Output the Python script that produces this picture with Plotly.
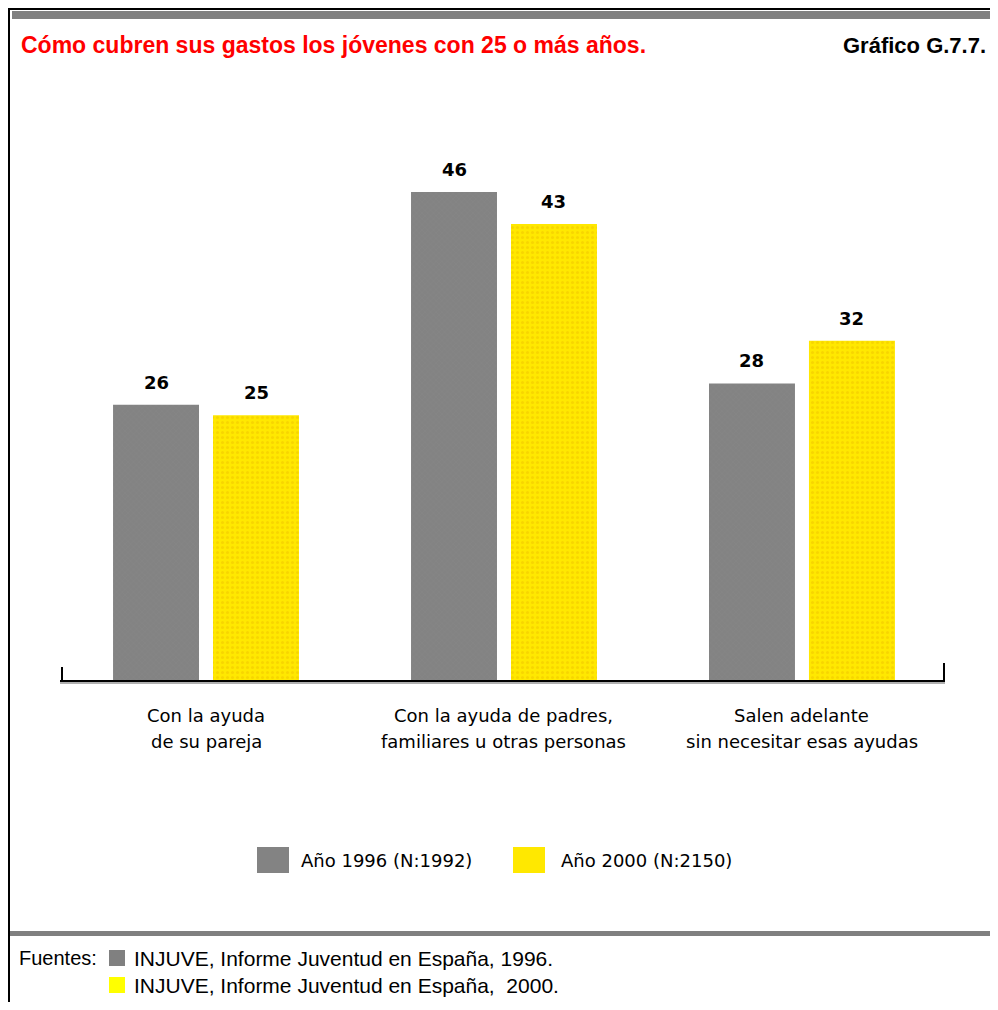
import plotly.graph_objects as go

# ---------------- data ----------------
categories_line1 = ["Con la ayuda", "Con la ayuda de padres,", "Salen adelante"]
categories_line2 = ["de su pareja", "familiares u otras personas", "sin necesitar esas ayudas"]
values_1996 = [26, 46, 28]
values_2000 = [25, 43, 32]
series_names = ["Año 1996 (N:1992)", "Año 2000 (N:2150)"]
title_text = "Cómo cubren sus gastos los jóvenes con 25 o más años."
chart_id = "Gráfico G.7.7."
sources = ["INJUVE, Informe Juventud en España, 1996.",
           "INJUVE, Informe Juventud en España,  2000."]

# ---------------- style / layout ----------------
OFF = 8  # page body margin of the browser
W, H = 982, 994
ML, MR, MT, MB = 52, 45, 92, 321
PW, PH = W - ML - MR, H - MT - MB
GRAY = "#838383"
YELLOW = "#FFE800"
BARGAP = 0.329
BARGROUPGAP = 0.14
YMAX = 54.66
XR = [-0.49, 2.48]
CAT_FONT = "DejaVu Sans"
SANS = "Liberation Sans, Arial, sans-serif"


def px(x):
    """page x pixel -> paper coordinate"""
    return (x - OFF - ML) / PW


def py(y):
    """page y pixel -> paper coordinate"""
    return (H - MB - (y - OFF)) / PH


xs = list(range(len(values_1996)))

fig = go.Figure()
fig.add_trace(go.Bar(
    x=xs, y=values_1996, name=series_names[0],
    marker=dict(color=GRAY, line=dict(width=0),
                pattern=dict(shape="x", fgcolor="#8c8c8c", bgcolor=GRAY, size=4, solidity=0.2)),
))
fig.add_trace(go.Bar(
    x=xs, y=values_2000, name=series_names[1],
    marker=dict(color=YELLOW, line=dict(width=0),
                pattern=dict(shape=".", fgcolor="#F0C400", bgcolor=YELLOW, size=5, solidity=0.3)),
))

annotations = []
shapes = []

# value labels above bars
half_slot = (1 - BARGAP) / 4
for vals, sign in ((values_1996, -1), (values_2000, 1)):
    for i, v in enumerate(vals):
        annotations.append(dict(
            x=i + sign * half_slot, y=v, xref="x", yref="y",
            text=f"<b>{v}</b>", showarrow=False, yanchor="bottom", yshift=10,
            font=dict(family="DejaVu Sans", size=18, color="black")))

# category labels (two lines)
for i, (l1, l2) in enumerate(zip(categories_line1, categories_line2)):
    annotations.append(dict(x=i, y=py(715), xref="x", yref="paper", text=l1,
                            showarrow=False, yanchor="middle",
                            font=dict(family=CAT_FONT, size=18, color="black")))
    annotations.append(dict(x=i, y=py(741), xref="x", yref="paper", text=l2,
                            showarrow=False, yanchor="middle",
                            font=dict(family=CAT_FONT, size=18, color="black")))

# axis baseline with end ticks
shapes.append(dict(type="line", xref="paper", yref="paper", x0=px(60), x1=px(945),
                   y0=py(683), y1=py(683), line=dict(color="#b0b0b0", width=2)))
shapes.append(dict(type="line", xref="paper", yref="paper", x0=px(60), x1=px(945),
                   y0=py(681), y1=py(681), line=dict(color="black", width=2)))
shapes.append(dict(type="line", xref="paper", yref="paper", x0=px(62), x1=px(62),
                   y0=py(667), y1=py(682), line=dict(color="black", width=2)))
shapes.append(dict(type="line", xref="paper", yref="paper", x0=px(944), x1=px(944),
                   y0=py(663), y1=py(682), line=dict(color="black", width=2)))

# frame
shapes.append(dict(type="line", xref="paper", yref="paper", x0=px(9), x1=px(9),
                   y0=py(8), y1=py(1012), line=dict(color="black", width=2)))
shapes.append(dict(type="line", xref="paper", yref="paper", x0=px(8), x1=px(1000),
                   y0=py(9), y1=py(9), line=dict(color="black", width=2)))
shapes.append(dict(type="rect", xref="paper", yref="paper", x0=px(12), x1=px(1000),
                   y0=py(11), y1=py(19), fillcolor="#808080", line=dict(width=0)))
shapes.append(dict(type="rect", xref="paper", yref="paper", x0=px(10), x1=px(1000),
                   y0=py(931), y1=py(936), fillcolor="#808080", line=dict(width=0)))

# title
annotations.append(dict(x=px(19), y=py(45), xref="paper", yref="paper", text=f"<b>{title_text}</b>",
                        showarrow=False, xanchor="left", yanchor="middle",
                        font=dict(family=SANS, size=23, color="#FF0000")))
annotations.append(dict(x=px(988), y=py(45), xref="paper", yref="paper", text=f"<b>{chart_id}</b>",
                        showarrow=False, xanchor="right", yanchor="middle",
                        font=dict(family=SANS, size=22, color="black")))

# custom legend
leg = [(257, 289, 299, GRAY), (513, 545, 559, YELLOW)]
for (x0, x1, tx, col), name in zip(leg, series_names):
    shapes.append(dict(type="rect", xref="paper", yref="paper", x0=px(x0), x1=px(x1),
                       y0=py(873), y1=py(847), fillcolor=col, line=dict(width=0)))
    annotations.append(dict(x=px(tx), y=py(860), xref="paper", yref="paper", text=name,
                            showarrow=False, xanchor="left", yanchor="middle",
                            font=dict(family=CAT_FONT, size=18, color="black")))

# sources footer
annotations.append(dict(x=px(17), y=py(958), xref="paper", yref="paper", text="Fuentes:",
                        showarrow=False, xanchor="left", yanchor="middle",
                        font=dict(family=SANS, size=20, color="black")))
for (yc, col), txt in zip(((958, "#808080"), (985, "#FFFF00")), sources):
    shapes.append(dict(type="rect", xref="paper", yref="paper", x0=px(109), x1=px(125),
                       y0=py(yc + 8), y1=py(yc - 8), fillcolor=col, line=dict(width=0)))
    annotations.append(dict(x=px(132), y=py(yc), xref="paper", yref="paper", text=txt,
                            showarrow=False, xanchor="left", yanchor="middle",
                            font=dict(family=SANS, size=21, color="black")))

fig.update_layout(
    width=W, height=H,
    margin=dict(l=ML, r=MR, t=MT, b=MB),
    paper_bgcolor="white", plot_bgcolor="white",
    barmode="group", bargap=BARGAP, bargroupgap=BARGROUPGAP,
    showlegend=False,
    xaxis=dict(range=XR, showticklabels=False, showgrid=False, zeroline=False,
               showline=False, ticks=""),
    yaxis=dict(range=[0, YMAX], visible=False, showgrid=False, zeroline=False),
    annotations=annotations, shapes=shapes,
)

fig.write_html("out.html")
